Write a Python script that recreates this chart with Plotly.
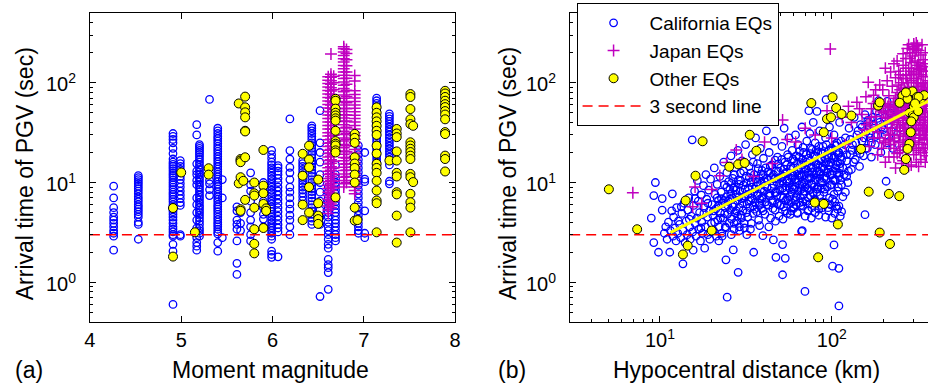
import math
import plotly.graph_objects as go

FONT = "Liberation Sans"

# ---------------- Panel (a): arrival time of PGV vs moment magnitude ----------------
cal_a_mag = [4.26, 4.53, 4.91, 4.99, 5.17, 5.20, 5.31, 5.40, 5.45, 5.61, 5.65, 5.76, 5.90,
             5.99, 6.06, 6.19, 6.33, 6.43, 6.52, 6.61, 6.69, 6.94, 7.01, 7.14, 7.28]
cal_a_time = [
    [9.2, 7.0, 5.6, 5.0, 4.5, 4.2, 3.9, 3.6, 3.3, 3.1, 2.9, 2.1],
    [11.7, 11.2, 10.7, 10.2, 9.7, 9.2, 8.7, 8.2, 7.7, 7.2, 6.8, 6.4, 6.0, 5.7, 5.4, 5.1, 4.8, 4.5, 4.0, 3.8, 2.7],
    [31, 29, 27, 25, 22, 19.5, 17.2, 16.0, 15.2, 14.5, 13.8, 13.1, 12.4, 11.8, 11.2, 10.6, 10.0, 9.5, 9.0, 8.5,
     8.0, 7.6, 7.2, 6.8, 6.4, 6.0, 5.7, 5.4, 5.1, 4.8, 4.5, 4.2, 3.9, 3.6, 3.4, 3.2, 3.0, 2.9, 2.4, 2.05, 0.6],
    [16.6, 15.5, 14.5, 13.5, 12.5, 11.5, 10.7, 9.8, 9.0, 8.2, 7.5, 6.9, 6.3, 5.9, 3.0, 2.9],
    [38, 30, 15.4, 13.0, 12.0, 10.5, 9.5, 7.0, 6.0, 5.0, 4.2, 3.5, 2.8, 2.5, 2.3, 2.1],
    [24, 23, 22, 21, 20, 19, 18, 17, 16, 15, 14.2, 13.4, 12.7, 12.0, 11.3, 10.7, 10.1, 9.5, 9.0, 8.5,
     8.0, 7.5, 7.1, 6.7, 6.3, 5.9, 5.6, 5.3, 5.0, 4.7, 4.4, 4.1, 3.8, 3.5, 3.3, 3.1, 2.9],
    [68, 10.5, 9.7, 8.5, 7.4],
    [35, 33, 31, 29, 27.5, 26, 24.5, 23, 21.7, 20.5, 19.3, 18.2, 17.2, 16.2, 15.3, 14.4, 13.6, 12.8, 12.1,
     11.4, 10.8, 10.2, 9.6, 9.1, 8.6, 8.1, 7.6, 7.2, 6.8, 6.4, 6.0, 5.7, 5.4, 5.1, 4.8, 4.5, 4.25, 4.0, 3.8,
     3.6, 3.4, 3.2, 3.05, 2.5, 2.05],
    [10.7, 7.0, 2.8],
    [5.7, 5.2, 4.2, 3.8, 3.4, 2.6, 1.55, 1.2],
    [5.0, 3.9, 3.3],
    [12.5, 9.5, 8.2, 6.5, 5.0, 4.2, 3.6, 3.0, 2.6],
    [10.0, 9.0, 8.0, 6.5, 5.6, 4.8, 4.3, 3.6],
    [21, 19, 17.5, 16, 15, 14, 13.2, 12.4, 11.6, 10.9, 10.2, 9.6, 9.0, 8.4, 7.9, 7.4, 6.9, 6.5, 6.1, 5.7,
     5.4, 5.1, 4.8, 4.5, 4.2, 3.95, 3.7, 3.5, 3.3, 3.1, 2.9, 2.7, 2.05, 1.9, 1.78],
    [14.8, 14.0, 13.0, 12.0, 11.0, 10.0, 9.0, 8.2, 7.5, 6.8, 6.2, 5.6, 5.1, 4.6, 4.2, 3.8, 3.5, 3.2, 1.8],
    [43.4, 20.9, 17.2, 14.2, 12.5, 10.7, 9.0, 8.0, 7.0, 6.1, 5.4, 4.7, 4.2, 3.6, 3.0],
    [16.6, 15.5, 14.5, 13.5, 12.6, 11.8, 11.0, 10.3, 9.6, 9.0, 8.4, 7.8, 7.2, 6.6],
    [37, 35, 33, 31, 29, 27, 25, 23.5, 22, 20.5, 19, 17.7, 16.5, 15.4, 14.3, 13.3, 12.4, 11.5, 10.7, 10.0,
     9.3, 8.7, 8.1, 7.5, 7.0, 6.5, 6.0, 5.6, 5.2, 4.8, 4.4, 4.1, 3.8],
    [52.5, 25, 20, 16, 12, 10, 8, 6.5, 5.3, 4.5, 3.8, 0.72],
    [9.0, 8.0, 7.0, 6.3, 5.6, 5.0, 4.5, 4.0, 3.6, 3.3, 3.0, 2.7, 2.4, 2.2, 1.7, 1.5, 1.4, 1.25, 0.85],
    [25, 20, 15, 12, 11, 10, 9.2, 8.4, 7.7, 7.0, 6.4, 5.9, 5.4, 5.0, 4.6, 4.2, 3.9, 3.6, 3.3, 3.0, 2.8, 2.6],
    [23.5, 21, 19, 17, 15.5, 14, 12.7, 11.5, 10.4, 9.4, 8.5, 7.7, 7.0, 6.3, 5.7, 5.2, 4.7, 4.3, 3.9, 3.6, 3.3, 3.1],
    [20, 10.8, 10.2, 5.2, 3.1, 2.8],
    [70, 66, 62, 58, 54, 50, 47, 44, 41, 38.5, 36, 33.7, 31.5, 29.5, 27.6, 25.8, 24, 22.5, 21, 19.7, 18.4, 17.2, 16],
    [48.7, 46, 43.5, 41, 38.5, 36, 34, 32, 30, 28, 26.3, 24.7, 23.2, 21.8, 20.4, 19.2, 18.0, 15, 10.3, 9.7],
]

jp_a_mag = [6.61, 6.64, 6.67, 6.78, 6.81, 6.90]
jp_a_time = [
    [4.9, 5.3, 5.8, 6.3, 6.8, 7.4, 8.0, 8.7, 9.4, 10.2, 11.0, 12.0, 13.0, 14.1, 15.3, 16.6, 18.0, 19.5, 21.1,
     22.9, 24.8, 26.9, 29.2, 31.6, 34.3, 37.2, 40.3, 43.7, 47.4, 51.4, 55.7, 60.4, 65.5, 71.0, 77.0, 83.5,
     90.5, 98.1, 106, 115],
    [5.6, 6.1, 6.6, 7.1, 7.7, 8.3, 9.0, 9.7, 10.5, 11.4, 12.3, 13.3, 14.4, 15.6, 16.9, 18.3, 19.8, 21.4,
     23.2, 25.1, 27.2, 29.4, 31.8, 34.4, 37.3, 40.4, 43.7, 47.3, 51.2, 55.4, 60.0, 65.0, 70.4, 76.2, 82.5,
     89.3, 96.7, 104.7, 113.4, 122, 194],
    [6.5, 7.6, 8.8, 10.3, 12.0, 14.0, 16.3, 19.0, 22.0, 25.6, 29.8, 34.6, 40.2, 46.7, 54.3, 63, 73, 85, 100, 116],
    [9.0, 9.7, 10.5, 11.3, 12.2, 13.2, 14.2, 15.3, 16.5, 17.8, 19.2, 20.7, 22.3, 24.1, 26.0, 28.0, 30.2,
     32.6, 35.2, 38.0, 41.0, 44.2, 47.7, 51.5, 55.6, 60.0, 64.7, 69.8, 75.3, 81.3, 87.7, 94.6, 102, 110,
     119, 128, 138, 149, 161, 174, 188, 203, 219, 230],
    [10.0, 11.5, 13.3, 15.3, 17.6, 20.3, 23.4, 27.0, 31.1, 35.8, 41.3, 47.6, 54.8, 63.2, 72.8, 83.9, 96.7,
     111, 128, 148, 170, 196, 215],
    [7.7, 8.3, 9.0, 9.7, 10.5, 11.4, 12.3, 13.3, 14.4, 15.6, 16.9, 18.3, 19.8, 21.4, 23.2, 25.1, 27.2, 29.4,
     31.8, 34.4, 37.3, 40.4, 43.7, 47.3, 51.2, 55.4, 60.0, 65.0, 70.4, 76.2, 83, 104, 118],
]

oth_a_mag = [4.91, 5.00, 5.15, 5.30, 5.63, 5.65, 5.68, 5.70, 5.80, 5.90, 5.93, 6.33, 6.40, 6.50,
             6.69, 6.90, 6.93, 7.14, 7.28, 7.36, 7.51, 7.54, 7.89]
oth_a_time = [
    [5.55, 1.81], [12.6], [3.17], [13.9, 12.0], [62, 9.8],
    [17.2, 16.6, 16.0, 11.3, 5.4, 5.2], [10.4],
    [72.6, 56.7, 50.5, 45, 33, 32.5, 17.9, 6.7],
    [10.0, 7.8, 7.4, 5.6, 3.4, 2.43, 1.95],
    [21.2, 9.3, 7.8, 6.1, 3.5], [5.5, 5.2],
    [19.4, 6.0, 4.2, 11.7], [23.4, 17.0, 14.2, 9.0, 5.0],
    [10.7, 6.2, 4.66, 4.3, 3.85],
    [69, 66, 55, 50, 47, 44, 41.7, 33, 26, 24.5, 23.5, 21, 20, 7.1],
    [30.7, 28, 25, 17.9, 15.5, 14, 12, 10, 5.6, 4.15], [4.2],
    [56.7, 50, 45, 41, 37, 33, 30, 23.4, 19.5, 15.4, 14, 12.5, 10.4, 8.3, 6.6, 6.2, 3.17],
    [16.6],
    [34.4, 31, 28.5, 20.5, 16.6, 12.5, 11.5, 8.0, 7.6, 4.66, 2.5],
    [77, 72, 54.5, 43, 38.5, 25.3, 23.5, 21.8, 20.2, 18.6, 17.2, 12.2, 11.3, 7.7, 6.35, 5.6, 3.17],
    [37, 10.1],
    [83, 78, 72, 66, 61, 57, 52, 48, 43, 32, 30.6, 18.6, 17.2, 12.9],
]

# ---------------- Panel (b): arrival time of PGV vs hypocentral distance ----------------
cal_b_near = [(9.2, 7.4), (9.4, 10.0), (8.9, 4.4), (9.2, 2.5), (9.8, 2.0), (10.3, 6.9), (10.3, 5.3),
              (10.6, 3.1), (10.8, 3.6), (11.0, 2.7), (11.2, 4.0), (11.4, 2.0), (11.8, 7.7), (11.5, 3.3),
              (11.9, 2.9), (12.0, 4.5), (12.2, 3.5), (12.4, 2.6), (12.5, 5.6), (12.7, 3.1), (13.0, 3.8),
              (13.2, 2.8), (13.4, 4.9), (13.6, 1.53), (13.6, 3.3), (13.8, 6.2), (14.0, 2.5), (14.2, 4.1),
              (14.4, 3.0), (14.5, 5.3), (14.7, 7.0), (14.9, 3.6), (15.0, 2.7), (15.2, 4.6), (15.4, 26.8),
              (15.5, 3.2), (15.6, 2.1), (15.7, 5.9), (15.9, 8.2), (16.0, 3.9), (16.2, 2.9), (16.4, 4.4),
              (16.5, 10.5), (16.7, 6.5), (16.8, 3.4), (17.0, 5.0), (17.2, 2.6), (17.4, 7.5), (17.5, 4.0),
              (17.7, 3.1), (17.9, 9.3), (18.0, 5.6), (18.2, 2.2), (18.4, 3.6), (18.5, 12.0), (18.7, 6.8),
              (18.9, 4.5), (19.0, 3.0), (19.2, 8.4), (19.4, 5.2), (19.5, 2.7), (19.7, 10.8), (19.9, 3.9),
              (20.1, 6.0), (20.3, 4.7), (20.5, 3.3), (20.7, 14.0), (20.9, 7.6), (21.1, 5.4), (21.3, 2.9),
              (21.5, 9.6), (21.7, 4.2), (21.9, 6.6), (22.1, 3.6), (22.3, 11.5), (22.5, 5.0),
              (20.5, 5.2), (21.5, 7.0), (22.5, 4.4), (23.5, 6.6), (24.5, 9.0), (23.0, 2.9), (24.0, 3.6),
              (18.0, 4.9), (19.0, 6.2), (16.0, 6.9), (14.8, 4.3), (13.3, 5.7), (12.8, 4.1), (11.7, 5.2),
              (17.3, 3.5), (22.0, 2.6), (26.0, 3.0), (29.0, 3.3), (32.0, 3.0)]

cal_b_mid = [(22.7, 8.0), (22.9, 3.1), (23.1, 6.2), (23.3, 4.4), (23.5, 16.0), (23.7, 9.5), (23.9, 5.6),
             (24.1, 3.5), (24.2, 1.68), (24.3, 7.2), (24.5, 12.6), (24.6, 0.71), (24.7, 4.8), (24.9, 6.5),
             (25.1, 10.2), (25.3, 3.9), (25.5, 8.6), (25.7, 5.3), (25.9, 18.5), (26.1, 4.3), (26.3, 7.0),
             (26.4, 44.0), (26.5, 11.0), (26.7, 2.11), (26.8, 6.0), (27.0, 3.4), (27.2, 9.0), (27.4, 5.0),
             (27.6, 14.0), (27.8, 7.6), (28.0, 4.1), (28.2, 6.6), (28.4, 21.0), (28.5, 1.26), (28.6, 10.6),
             (28.8, 5.6), (29.0, 3.6), (29.2, 8.2), (29.4, 12.5), (29.6, 4.7), (29.8, 6.9), (30.0, 16.5),
             (30.3, 5.2), (30.6, 9.4), (30.9, 3.9), (31.2, 7.3), (31.5, 24.0), (31.8, 11.6), (32.1, 6.1),
             (32.4, 4.5), (32.7, 8.8), (33.0, 14.5), (33.3, 5.6), (33.6, 3.4), (33.9, 10.0), (34.2, 7.0),
             (34.5, 19.0), (34.8, 4.9), (35.1, 2.0), (35.1, 8.0), (35.4, 12.0), (35.7, 6.3), (36.0, 28.0),
             (36.3, 9.2), (36.6, 5.1), (36.9, 15.5), (37.2, 7.6), (37.5, 4.2), (37.8, 11.0), (38.1, 6.8),
             (38.4, 22.0), (38.7, 8.6), (39.0, 5.5), (39.3, 13.2), (39.7, 2.93), (39.7, 7.2), (40.0, 17.5),
             (40.4, 10.2), (40.8, 4.8), (41.2, 6.4), (41.6, 33.0), (42.0, 9.0), (42.4, 12.8), (42.8, 5.9),
             (43.2, 20.0), (43.6, 7.8), (44.0, 4.4), (44.4, 11.2), (44.8, 15.0), (45.3, 6.6), (45.7, 2.66),
             (45.8, 9.6), (46.3, 26.0), (46.8, 5.3), (47.3, 1.78), (47.3, 13.0), (47.8, 7.4), (48.3, 18.0),
             (48.8, 10.8), (49.3, 4.6), (49.8, 8.4), (50.3, 14.0), (50.8, 6.0), (51.3, 23.0), (51.7, 2.39),
             (51.7, 1.19), (51.8, 11.5), (52.3, 7.0), (52.8, 35.0), (53.3, 16.0), (53.6, 1.74), (53.8, 5.2),
             (54.3, 9.2), (54.8, 12.5), (55.3, 19.0), (55.8, 6.6), (56.3, 28.0), (56.8, 10.0), (57.3, 4.8),
             (57.8, 14.5), (58.3, 8.0), (58.8, 21.0), (59.3, 11.8), (59.8, 5.7), (60.5, 16.5), (61.0, 9.0),
             (61.5, 30.0), (62.0, 7.2), (62.5, 13.0), (63.0, 5.0), (63.5, 24.0), (64.0, 10.5), (64.5, 18.0),
             (65.0, 6.3), (65.5, 12.0), (66.0, 8.5), (66.7, 3.24), (67.0, 36.0), (67.3, 3.3), (67.5, 15.0),
             (68.0, 5.8), (68.5, 20.0), (69.0, 10.0), (69.8, 0.81)]

cal_b_core = [(25.5, 6.8), (26.0, 9.8), (26.6, 5.7), (27.1, 12.0), (27.7, 8.4), (28.3, 4.6), (28.9, 7.2),
              (29.5, 10.4), (30.1, 6.2), (30.7, 13.0), (31.3, 8.6), (31.9, 5.0), (32.5, 7.6), (33.1, 11.2),
              (33.7, 6.6), (34.3, 9.0), (34.9, 16.0), (35.5, 5.4), (36.1, 10.8), (36.7, 7.4), (37.3, 13.8),
              (37.9, 5.9), (38.5, 9.8), (39.1, 6.9), (39.8, 11.8), (40.5, 8.2), (41.2, 14.0), (41.9, 6.0),
              (42.6, 10.6), (43.3, 7.3), (44.0, 12.4), (44.7, 8.8), (45.4, 5.5), (46.1, 10.9), (46.8, 16.8),
              (47.5, 8.0), (48.2, 6.1), (48.9, 13.0), (49.6, 9.6), (50.3, 7.3), (51.0, 17.0), (51.7, 10.2),
              (52.4, 5.7), (53.1, 12.2), (53.8, 8.4), (54.5, 15.0), (55.2, 6.9), (55.9, 10.8), (56.6, 8.8),
              (57.3, 13.6), (58.0, 6.3), (58.7, 11.0), (59.4, 17.2), (60.1, 8.6), (60.8, 12.4), (61.5, 6.7),
              (62.2, 10.0), (62.9, 15.5), (63.6, 8.2), (64.3, 11.8), (65.0, 20.5), (65.7, 7.0), (66.4, 13.6),
              (67.1, 9.6), (67.8, 17.0), (68.5, 7.6), (69.2, 12.0), (70.0, 9.0), (71.0, 16.0), (72.0, 11.0),
              (73.0, 7.0), (74.0, 14.5), (75.0, 19.5), (76.0, 9.8), (77.0, 12.8), (78.0, 7.8), (79.0, 16.0),
              (80.0, 10.6), (81.0, 21.0), (82.0, 13.0), (83.0, 9.0), (84.0, 16.5), (85.0, 7.4), (86.0, 12.2),
              (87.0, 20.0), (88.0, 10.0), (89.0, 14.5), (90.0, 8.0), (91.0, 17.5), (92.0, 11.5), (93.0, 24.0),
              (94.0, 9.0), (95.0, 13.5), (96.0, 18.0), (97.0, 7.0), (98.0, 12.0), (99.0, 16.0), (100, 9.5),
              (101, 21.0), (102, 13.0), (103, 7.6), (104, 18.0), (105, 10.5), (106, 23.5), (107, 12.5),
              (108, 16.0), (109, 9.0), (110, 20.0), (111, 14.0), (112, 10.5), (113, 26.0), (114, 17.0)]

cal_b_core2 = [(20.8, 4.0), (21.8, 5.8), (22.8, 6.9), (23.8, 4.9), (24.8, 5.9), (25.8, 7.6), (26.8, 8.8),
               (27.8, 5.2), (28.8, 9.6), (29.8, 4.4), (30.8, 7.0), (31.8, 9.9), (32.8, 6.5), (33.8, 12.4),
               (34.8, 5.8), (35.8, 8.6), (36.8, 10.0), (37.8, 6.2), (38.8, 12.2), (39.8, 5.2), (40.8, 9.3),
               (41.8, 11.0), (42.8, 7.6), (43.8, 14.6), (44.8, 6.3), (45.8, 12.0), (46.8, 7.9), (47.8, 10.2),
               (48.8, 15.3), (49.8, 5.9), (50.8, 11.2), (51.8, 8.8), (52.8, 13.6), (53.8, 6.6), (54.8, 10.4),
               (55.8, 18.0), (56.8, 7.2), (57.8, 11.8), (58.8, 9.0), (59.8, 14.0), (61, 10.8), (62, 18.5),
               (63, 7.6), (64, 13.2), (65, 9.4), (66, 15.8), (67, 11.5), (68, 22.5), (69, 8.2), (70, 13.8),
               (71, 19.0), (72, 9.6), (73, 12.4), (74, 8.4), (75, 16.5), (76, 11.2), (77, 21.5), (78, 14.0),
               (79, 9.0), (80, 18.5), (81, 12.0), (82, 8.6), (83, 15.0), (84, 23.0), (85, 11.0), (86, 17.0),
               (87, 8.8), (88, 14.0), (89, 19.5), (90, 11.0), (92, 15.5), (94, 12.5), (96, 21.0), (98, 14.5),
               (100, 18.5), (102, 10.5), (104, 24.0), (106, 15.0), (108, 20.5), (110, 11.5), (113, 18.0),
               (116, 14.0), (119, 24.0), (122, 19.0), (125, 13.0), (128, 27.0), (131, 21.0), (134, 16.0),
               (138, 25.0), (142, 33.0), (146, 19.5), (150, 36.0), (154, 28.0), (158, 22.0), (162, 42.0),
               (166, 31.0), (170, 25.0), (175, 38.0), (180, 29.0), (185, 44.0), (195, 36.0), (205, 30.0),
               (215, 42.0), (225, 56.0), (62, 6.0), (68, 6.4), (74, 6.1), (80, 6.6), (86, 5.9), (92, 6.3),
               (98, 6.0), (104, 6.4), (110, 5.8), (58, 5.2), (55, 4.9), (52, 4.3), (47, 4.1), (43, 3.6),
               (38, 3.7), (34, 3.9), (31, 3.5), (27, 3.9), (120, 8.0), (116, 7.2), (122, 11.5)]

cal_b_far = [(70.5, 6.5), (71, 13.5), (71.5, 26.0), (72, 8.8), (72.5, 5.2), (73, 17.5), (73.5, 52.5),
             (74, 11.0), (74.5, 31.0), (75, 7.4), (75.5, 22.0), (76, 14.0), (76.5, 5.6), (77, 9.5),
             (78, 40.0), (78.5, 18.5), (79, 12.0), (79.5, 6.8), (80, 25.0), (81, 15.5), (82, 51.6),
             (82, 8.0), (83, 20.0), (84, 5.4), (84.5, 12.8), (85, 33.0), (86, 10.0), (87, 17.0), (88, 6.4),
             (89, 23.0), (90, 13.5), (91, 8.6), (92, 28.0), (92.6, 67.6), (93, 11.0), (94, 19.0), (95, 5.6),
             (96, 15.0), (97, 36.0), (98, 9.4), (99, 22.0), (100, 12.0), (101, 1.45), (101, 6.8),
             (102, 17.5), (103, 2.37), (103, 30.0), (104, 10.5), (105, 14.0), (106, 5.8), (107, 25.0),
             (108, 8.2), (109, 19.0), (110, 0.58), (110, 1.38), (110, 12.5), (111, 40.0),
             (60, 5.5), (63, 4.9), (66, 5.9), (70, 4.6), (73, 5.3), (76, 4.4), (80, 5.0), (84, 4.7),
             (88, 5.6), (92, 4.5), (96, 5.2), (100, 4.4), (104, 4.9), (108, 5.4), (112, 4.6), (114, 5.1),
             (112, 15.5), (114, 9.5), (116, 21.0), (118, 12.0), (120, 28.0), (122, 16.5), (124, 10.0),
             (126, 35.0), (128, 19.0), (130, 13.5), (132, 24.0), (135, 45.0), (137, 17.0), (140, 30.0),
             (142, 21.0), (145, 14.5), (147, 38.0), (150, 26.0), (153, 18.5), (156, 4.76), (156, 48.0),
             (158, 32.0), (161, 22.0), (164, 40.0), (167, 28.0), (170, 18.0), (173, 45.0), (176, 35.0),
             (179, 24.0), (182, 52.0), (185, 30.0), (187, 66.0), (190, 40.0), (193, 20.0), (196, 55.0),
             (200, 34.0), (204, 45.0), (207, 10.3), (208, 25.0), (210, 65.0), (214, 38.0), (218, 50.0),
             (222, 33.0), (226, 22.0), (230, 45.0), (236, 28.0), (242, 55.0), (248, 35.0)]

jp_b_pts = [(300, 230), (310, 218), (285, 200), (320, 210), (295, 185), (330, 190), (270, 175), (305, 165),
            (340, 170), (260, 150), (315, 150), (350, 155), (280, 140), (325, 135), (245, 130), (300, 125),
            (355, 130), (235, 112), (270, 118), (310, 110), (340, 115), (210, 105), (255, 100), (290, 105),
            (330, 98), (365, 105), (163, 101), (190, 95), (225, 92), (265, 88), (300, 90), (345, 86),
            (198, 85), (240, 80), (280, 82), (320, 78), (355, 80), (158, 72.5), (175, 75), (215, 74),
            (250, 70), (290, 72), (335, 70), (140, 63.6), (185, 65), (205, 62), (230, 64), (262, 60),
            (300, 62), (345, 58), (365, 65), (170, 55), (195, 52), (220, 56), (245, 50), (275, 54),
            (310, 50), (350, 52), (150, 48), (180, 46), (210, 44), (235, 47), (260, 42), (290, 45),
            (325, 43), (360, 46), (165, 40), (195, 38), (225, 40), (250, 36), (280, 39), (310, 37),
            (340, 40), (155, 34), (185, 32), (215, 30), (240, 33), (270, 31), (300, 34), (330, 30),
            (355, 33), (175, 28), (205, 26), (230, 28), (260, 26), (290, 28), (320, 25), (345, 27),
            (165, 23), (195, 22), (220, 24), (250, 21), (280, 23), (310, 21), (340, 22), (360, 24),
            (185, 19), (215, 18), (240, 19.5), (270, 17.5), (300, 19), (330, 17), (355, 18.5), (205, 16),
            (255, 15.5), (290, 15), (320, 14.5), (350, 16), (235, 14), (275, 21), (295, 56), (315, 66),
            (335, 85), (255, 58), (285, 64), (305, 44), (265, 35), (345, 35), (225, 35), (200, 60),
            (180, 85), (250, 120), (275, 100), (320, 120), (290, 160), (260, 195), (230, 155), (345, 145),
            (335, 240), (310, 250), (300, 245), (350, 200), (220, 128), (205, 140), (280, 240), (275, 220),
            (98, 218), (93.8, 52.5), (6.95, 7.9), (27.8, 21.2), (40.6, 25.4), (51.7, 42.4), (61.6, 25.4),
            (24.4, 15.9), (22.3, 11.7), (16, 9), (15.5, 5.7), (17.5, 6.2), (20, 8.5), (30, 17), (35, 11.5),
            (45, 15.5), (55, 27), (70, 35), (80, 30), (115, 45), (125, 58), (130, 40), (120, 24), (100, 28)]

jp_b_core = [(205, 45), (215, 52), (225, 48), (235, 58), (245, 44), (255, 52), (265, 48), (275, 60),
             (285, 50), (295, 40), (305, 55), (315, 45), (325, 60), (335, 50), (345, 45), (355, 60),
             (210, 35), (220, 30), (230, 42), (240, 38), (250, 30), (260, 45), (270, 38), (280, 30),
             (290, 35), (300, 28), (310, 42), (320, 35), (330, 38), (340, 30), (350, 42), (360, 36),
             (200, 25), (215, 27), (230, 22), (245, 25), (260, 23), (275, 27), (290, 24), (305, 26),
             (320, 22), (335, 24), (350, 22), (235, 70), (250, 85), (265, 75), (280, 90), (295, 68),
             (310, 85), (325, 75), (340, 95), (355, 70), (245, 95), (260, 110), (285, 120), (300, 110),
             (315, 100), (330, 140), (250, 62), (270, 66), (290, 58), (310, 75), (330, 62), (350, 100),
             (190, 55), (200, 50), (175, 62), (170, 45), (160, 38), (180, 36), (190, 28), (150, 30),
             (145, 55), (230, 18), (260, 16.5), (310, 16), (280, 14.5), (345, 20), (325, 30), (270, 140),
             (240, 165), (285, 175), (320, 160), (305, 200), (295, 215), (315, 235),
             (242, 53), (258, 40), (268, 56), (282, 44), (298, 50), (312, 60), (328, 48), (342, 55),
             (248, 33), (262, 29), (278, 34), (292, 31), (308, 33), (322, 28), (338, 35), (352, 30),
             (252, 76), (268, 82), (288, 78), (302, 72), (318, 92), (332, 80), (348, 74), (362, 90),
             (228, 60), (238, 50), (222, 40), (212, 58), (232, 26), (248, 20), (268, 24), (298, 22),
             (328, 20), (358, 28), (272, 110), (292, 130), (312, 140), (332, 120), (352, 130)]

oth_b_pts = [(5.04, 8.55), (7.36, 3.4), (13.6, 1.9), (14.5, 2.33), (14.1, 6.6), (16.1, 11.7), (17.7, 25.9),
             (20.0, 3.3), (25.3, 14.4), (28.5, 15.2), (31.1, 15.7), (33.3, 30.1), (36.4, 20.8), (76, 62.6),
             (101, 71.6), (106, 55.8), (93.8, 43.4), (98.9, 45), (114, 48.6), (130, 46.9), (89.8, 31.9),
             (79.6, 6.3), (89.8, 6.1), (108.5, 3.8), (83.3, 1.78), (164, 8.1), (190, 3.15), (215, 7.7),
             (218, 2.42), (247, 7.3), (148, 21.7), (186, 59), (190, 63.6), (258, 74), (276, 69), (295, 82),
             (313, 72), (330, 69), (345, 75), (284, 50), (296, 47), (300, 45), (288, 31.9), (283, 24.4),
             (276, 21.7), (270, 17.2), (264, 13.4), (320, 72), (300, 58), (290, 41), (248, 63), (305, 62),
             (270, 80), (318, 52)]

fit_dist = [11.5, 400]
fit_time = [3.15, 71]
threshold_sec = 3.0

y_tick_vals = [1, 10, 100]
y_tick_text = ["10<sup>0</sup>", "10<sup>1</sup>", "10<sup>2</sup>"]

# ---------------- build figure ----------------
def expand(mags, times):
    xs, ys = [], []
    for m, ts in zip(mags, times):
        xs.extend([m] * len(ts))
        ys.extend(ts)
    return xs, ys

def unzip(*groups):
    xs, ys = [], []
    for g in groups:
        for d, t in g:
            xs.append(d)
            ys.append(t)
    return xs, ys

BLUE = "#0000FF"
MAG = "#C000C0"
YEL = "#FFFF00"
RED = "#FF0000"

cal_marker = dict(symbol="circle-open", size=7.5, color=BLUE, line=dict(width=1.3, color=BLUE))
jp_marker = dict(symbol="cross-thin-open", size=8.5, color=MAG, line=dict(width=1.5, color=MAG))
oth_marker = dict(symbol="circle", size=9, color=YEL, line=dict(width=1, color="black"))

fig = go.Figure()

x, y = expand(cal_a_mag, cal_a_time)
fig.add_trace(go.Scatter(x=x, y=y, mode="markers", marker=cal_marker, showlegend=False, xaxis="x", yaxis="y"))
x, y = expand(jp_a_mag, jp_a_time)
fig.add_trace(go.Scatter(x=x, y=y, mode="markers", marker=jp_marker, showlegend=False, xaxis="x", yaxis="y"))
x, y = expand(oth_a_mag, oth_a_time)
fig.add_trace(go.Scatter(x=x, y=y, mode="markers", marker=oth_marker, showlegend=False, xaxis="x", yaxis="y"))
fig.add_trace(go.Scatter(x=[4, 8], y=[threshold_sec, threshold_sec], mode="lines",
                         line=dict(color=RED, width=1.5, dash="10px,6px"), showlegend=False,
                         xaxis="x", yaxis="y"))

x, y = unzip(cal_b_near, cal_b_mid, cal_b_core, cal_b_core2, cal_b_far)
fig.add_trace(go.Scatter(x=x, y=y, mode="markers", marker=cal_marker, name="California EQs",
                         xaxis="x2", yaxis="y2"))
x, y = unzip(jp_b_pts, jp_b_core)
fig.add_trace(go.Scatter(x=x, y=y, mode="markers", marker=jp_marker, name="Japan EQs",
                         xaxis="x2", yaxis="y2"))
x, y = unzip(oth_b_pts)
fig.add_trace(go.Scatter(x=x, y=y, mode="markers", marker=oth_marker, name="Other EQs",
                         xaxis="x2", yaxis="y2"))
fig.add_trace(go.Scatter(x=[3, 400], y=[threshold_sec, threshold_sec], mode="lines",
                         line=dict(color=RED, width=1.5, dash="10px,6px"), name="3 second line",
                         xaxis="x2", yaxis="y2"))
fig.add_trace(go.Scatter(x=fit_dist, y=fit_time, mode="lines", line=dict(color=YEL, width=3),
                         showlegend=False, xaxis="x2", yaxis="y2"))

W, H = 934, 385
ydom = [1 - 322 / H, 1 - 13 / H]
tickfont = dict(family=FONT, size=20, color="black")
ylog_minor = [0.4, 0.5, 0.6, 0.7, 0.8, 0.9, 2, 3, 4, 5, 6, 7, 8, 9, 20, 30, 40, 50, 60, 70, 80, 90,
              200, 300, 400]
xlog_minor = [3, 4, 5, 6, 7, 8, 9, 20, 30, 40, 50, 60, 70, 80, 90, 200, 300]

common = dict(showgrid=False, zeroline=False, showline=True, linecolor="black", linewidth=1,
              ticks="inside", ticklen=6, tickcolor="black", tickwidth=1, tickfont=tickfont)

fig.update_layout(
    width=W, height=H, margin=dict(l=0, r=0, t=0, b=0),
    paper_bgcolor="white", plot_bgcolor="white",
    font=dict(family=FONT, color="black"),
    xaxis=dict(domain=[85 / W, 455 / W], range=[4, 8], tickvals=[4, 5, 6, 7, 8], mirror="ticks",
               anchor="y", **common),
    yaxis=dict(domain=ydom, type="log", range=[-0.398, 2.699], tickvals=y_tick_vals, showticklabels=False,
               mirror="ticks", anchor="x",
               minor=dict(tickvals=ylog_minor, ticks="inside", ticklen=3, tickcolor="black"), **common),
    xaxis2=dict(domain=[571.5 / W, 1.0], type="log", range=[0.4771, 2.5599], tickvals=[10, 100],
                ticktext=["10<sup>1</sup>", "10<sup>2</sup>"], mirror="ticks", anchor="y2",
                minor=dict(tickvals=xlog_minor, ticks="inside", ticklen=3, tickcolor="black"), **common),
    yaxis2=dict(domain=ydom, type="log", range=[-0.398, 2.699], tickvals=y_tick_vals, showticklabels=False,
                mirror=False, anchor="x2",
                minor=dict(tickvals=ylog_minor, ticks="inside", ticklen=3, tickcolor="black"), **common),
    legend=dict(x=578 / W, y=1 - 3 / H, xanchor="left", yanchor="top", bgcolor="white",
                bordercolor="black", borderwidth=1, font=dict(family=FONT, size=19, color="black"),
                itemwidth=62, tracegroupgap=0, entrywidth=160),
)

# y tick labels placed next to the axes
for yref, xpix in (("y", 73), ("y2", 559)):
    for v, txt in zip(y_tick_vals, y_tick_text):
        fig.add_annotation(xref="paper", yref=yref, x=xpix / W, y=math.log10(v), text=txt,
                           showarrow=False, xanchor="right", yanchor="middle", font=tickfont)

title_font = dict(family=FONT, size=23, color="black")
ann = [
    dict(text="(a)", x=7 / W, y=1 - 370 / H, xanchor="left", yanchor="middle"),
    dict(text="Moment magnitude", x=268 / W, y=1 - 370 / H, xanchor="center", yanchor="middle"),
    dict(text="(b)", x=496 / W, y=1 - 370 / H, xanchor="left", yanchor="middle"),
    dict(text="Hypocentral distance (km)", x=750 / W, y=1 - 370 / H, xanchor="center", yanchor="middle"),
    dict(text="Arrival time of PGV (sec)", x=19 / W, y=1 - 173.5 / H, xanchor="center", yanchor="middle",
         textangle=-90),
    dict(text="Arrival time of PGV (sec)", x=508 / W, y=1 - 173.5 / H, xanchor="center", yanchor="middle",
         textangle=-90),
]
for a in ann:
    fig.add_annotation(xref="paper", yref="paper", showarrow=False, font=title_font, **a)

fig.write_html("out.html")
